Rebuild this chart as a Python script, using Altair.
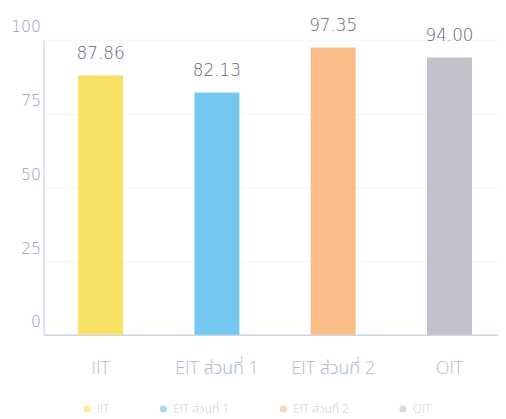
import altair as alt
import pandas as pd

categories = ["IIT", "EIT ส่วนที่ 1", "EIT ส่วนที่ 2", "OIT"]
values = [87.86, 82.13, 97.35, 94.00]
colors = ["#f8df5c", "#6dc4ee", "#fbb981", "#bfbec7"]

df = pd.DataFrame({"cat": categories, "val": values})

thai_font = "Open Sans, Noto Sans Thai, Noto Sans Thai Looped, Loma, Garuda, Sarabun, sans-serif"

x = alt.X("cat:N", sort=categories, title=None,
          scale=alt.Scale(paddingInner=0.613, paddingOuter=0.26, align=0.57),
          axis=alt.Axis(labelAngle=0, labelFontSize=18, labelColor="#a9bbcf",
                        labelFont=thai_font, labelFontWeight=300,
                        labelPadding=25, ticks=False,
                        domainColor="#c9d6e6", domainWidth=1.5, grid=False))
y = alt.Y("val:Q", title=None,
          scale=alt.Scale(domain=[0, 100], nice=False),
          axis=alt.Axis(values=[0, 25, 50, 75, 100], labelFontSize=16,
                        labelColor="#8fa4bc", labelFont="DejaVu Sans",
                        labelFontWeight=300,
                        labelPadding=3, labelOffset=-13, ticks=False,
                        domainColor="#c9d6e6", domainWidth=1.2,
                        gridColor="#f3f5f8", gridWidth=1))

color = alt.Color("cat:N", sort=categories, title=None,
                  scale=alt.Scale(domain=categories, range=colors),
                  legend=alt.Legend(orient="none", legendX=38, legendY=367,
                                    direction="horizontal", columns=4,
                                    symbolType="circle", symbolSize=50,
                                    symbolOpacity=0.6, labelFontSize=12,
                                    labelColor="#c6cfdb", labelFont=thai_font,
                                    labelFontWeight=300,
                                    columnPadding=48, symbolStrokeWidth=0))

bars = alt.Chart(df).mark_bar(opacity=0.95).encode(x=x, y=y, color=color)
text = alt.Chart(df).mark_text(dy=-17, baseline="alphabetic", fontSize=17,
                               font="DejaVu Sans", fontWeight=300,
                               color="#5d6573").encode(
    x=alt.X("cat:N", sort=categories),
    y="val:Q",
    text=alt.Text("val:Q", format=".2f"))

chart = (bars + text).properties(
    width=459, height=298,
    autosize=alt.AutoSizeParams(type="none"),
    padding={"left": 36, "top": 30, "right": 0, "bottom": 82},
).configure_view(stroke=None)

chart.save("out.html", embed_options={"renderer": "svg", "actions": False})
